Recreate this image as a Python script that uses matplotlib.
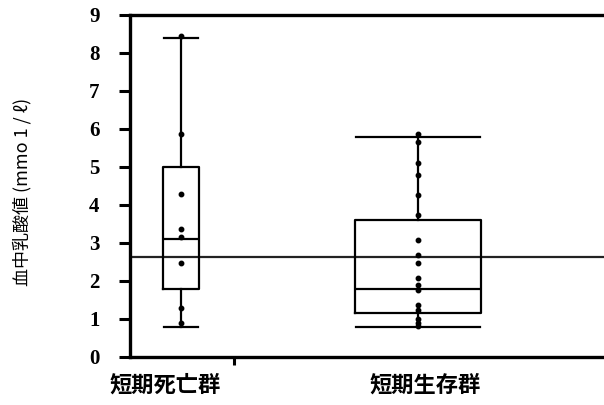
import matplotlib
matplotlib.use("Agg")
import matplotlib.pyplot as plt

plt.rcParams['font.family'] = ['Noto Sans CJK JP', 'DejaVu Sans']

groups = ["短期死亡群", "短期生存群"]
# box statistics (whisker low, q1, median, q3, whisker high)
whislo = [0.8, 0.8]
q1 = [1.8, 1.15]
med = [3.1, 1.8]
q3 = [5.0, 3.6]
whishi = [8.4, 5.8]
# individual data points
points_death = [8.45, 5.86, 4.28, 3.36, 3.17, 2.47, 1.28, 0.89]
points_survive = [5.88, 5.67, 5.1, 4.79, 4.26, 3.74, 3.08, 2.68, 2.47, 2.07,
                  1.89, 1.76, 1.37, 1.24, 1.0, 0.9, 0.82]
ref_value = 2.63
yticks = list(range(0, 10))

fig = plt.figure(figsize=(6.04, 4.05), dpi=100)
ax = fig.add_axes([130/604, 48/405, 474/604, 342/405])

positions = [0.51, 2.88]
widths = [0.36, 1.27]
stats = []
for i in range(2):
    stats.append(dict(whislo=whislo[i], q1=q1[i], med=med[i], q3=q3[i],
                      whishi=whishi[i], fliers=[], label=groups[i]))
lw = 1.6
ax.bxp(stats, positions=positions, widths=widths, showfliers=False,
       boxprops=dict(color='black', linewidth=lw),
       medianprops=dict(color='black', linewidth=lw),
       whiskerprops=dict(color='black', linewidth=lw),
       capprops=dict(color='black', linewidth=lw),
       capwidths=[0.34, 1.24], manage_ticks=False, zorder=2)

ax.plot([positions[0]] * len(points_death), points_death, 'o', color='black',
        markersize=3.2, zorder=3)
ax.plot([positions[1]] * len(points_survive), points_survive, 'o', color='black',
        markersize=3.2, zorder=3)

ax.axhline(ref_value, color='#222222', linewidth=1.6, zorder=1)

ax.set_xlim(0, 4.74)
ax.set_ylim(0, 9)
ax.set_yticks(yticks)
ax.set_yticklabels([str(v) for v in yticks], fontsize=15, fontweight='bold',
                   family=['Liberation Serif'])
ax.tick_params(axis='y', direction='out', length=8, width=2.2, pad=14)

# x: single tick mark, labels placed separately
ax.set_xticks([1.04])
ax.set_xticklabels([''])
ax.tick_params(axis='x', direction='out', length=6, width=2.2)
label_pos = [0.35, 2.95]
for p, g in zip(label_pos, groups):
    ax.text(p, -0.74, g, ha='center', va='center', fontsize=16,
            fontweight='bold', transform=ax.transData)

for s in ['left', 'bottom', 'top']:
    ax.spines[s].set_linewidth(2.4)
ax.spines['right'].set_visible(False)

fig.text(0.036, 0.525, "血中乳酸値 (mmo 1 / ℓ)", rotation=90,
         ha='center', va='center', fontsize=13,
         family=['Noto Sans CJK JP', 'DejaVu Sans'])

fig.savefig("out.png", dpi=100)
